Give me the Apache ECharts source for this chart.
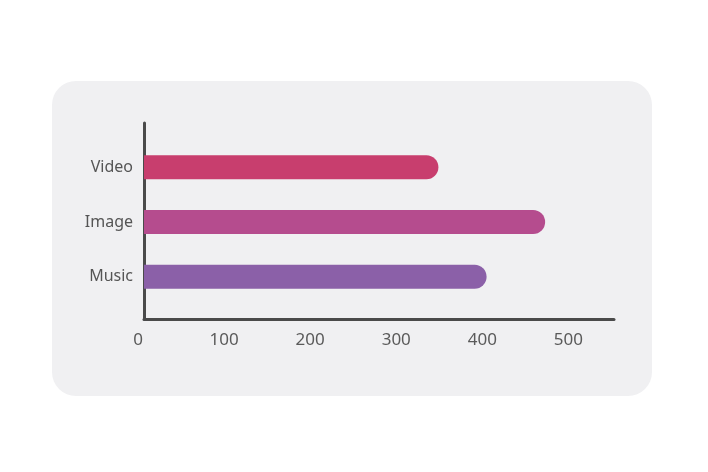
<!DOCTYPE html>
<html>
<head>
<meta charset="utf-8">
<script src="https://cdn.jsdelivr.net/npm/echarts@6/dist/echarts.min.js"></script>
<style>html,body{margin:0;padding:0;background:#fff;}#c{width:708px;height:472px;}</style>
</head>
<body>
<div id="c"></div>
<script>
const categories = ['Music', 'Image', 'Video'];
const values = [398, 466, 342];
const barColors = ['#8b60a8', '#b54c8e', '#c83e6e'];
const xTicks = [0, 100, 200, 300, 400, 500];
const xMax = 546;

const chart = echarts.init(document.getElementById('c'), null, {renderer: 'canvas'});
const font = '"Noto Sans", "Open Sans", sans-serif';
chart.setOption({
  backgroundColor: '#ffffff',
  animation: false,
  graphic: [{
    type: 'rect', z: -10,
    shape: {x: 52, y: 81, width: 600, height: 315, r: 24},
    style: {fill: '#f0f0f2'}
  }],
  grid: [
    {left: 144, top: 123, width: 470, height: 196, containLabel: false},
    {left: 144, top: 140, width: 470, height: 164, containLabel: false}
  ],
  xAxis: [
    {
      gridIndex: 0, type: 'value', min: 0, max: xMax, interval: 100,
      axisLine: {show: true, lineStyle: {color: '#4a4a4a', width: 3}},
      axisTick: {show: false}, splitLine: {show: false},
      axisLabel: {
        showMaxLabel: false, color: '#5a5a5a', fontSize: 17, fontFamily: font, margin: 13,
        padding: [0, 12, 0, 0],
        formatter: v => xTicks.includes(v) ? String(v) : ''
      }
    },
    {
      gridIndex: 1, type: 'value', min: 0, max: xMax, show: false
    }
  ],
  yAxis: [
    {
      gridIndex: 0, type: 'value', min: 0, max: 1,
      axisLine: {show: true, lineStyle: {color: '#4a4a4a', width: 3}},
      axisTick: {show: false}, axisLabel: {show: false}, splitLine: {show: false}
    },
    {
      gridIndex: 1, type: 'category', data: categories,
      axisLine: {show: false}, axisTick: {show: false}, splitLine: {show: false},
      axisLabel: {color: '#555555', fontSize: 16, fontFamily: font, margin: 11}
    }
  ],
  series: [{
    type: 'bar', xAxisIndex: 1, yAxisIndex: 1,
    barWidth: 24,
    data: values.map((v, i) => ({value: v, itemStyle: {color: barColors[i]}})),
    itemStyle: {borderRadius: [0, 12, 12, 0]}
  }]
});
</script>
</body>
</html>
